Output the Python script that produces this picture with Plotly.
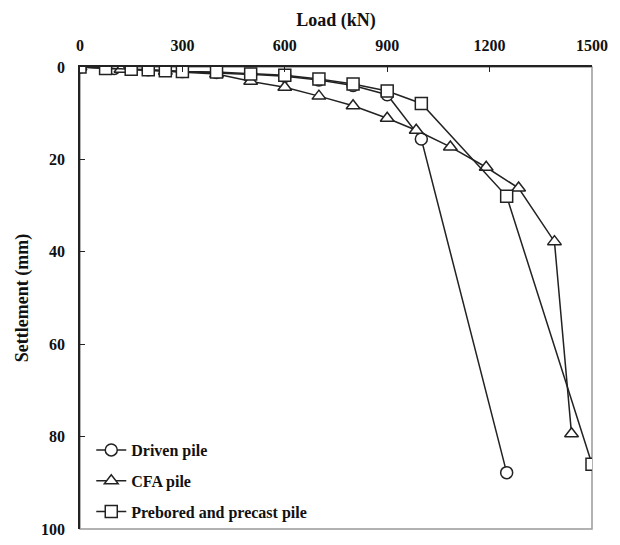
import plotly.graph_objects as go

driven_load = [0, 100, 200, 300, 400, 500, 600, 700, 800, 900, 1000, 1250]
driven_settle = [0, 0.3, 0.6, 1.0, 1.2, 1.6, 2.0, 2.8, 4.0, 6.0, 15.6, 87.8]

cfa_load = [0, 120, 250, 400, 500, 600, 700, 800, 900, 985, 1085, 1190, 1285, 1390, 1440]
cfa_settle = [0, 0.5, 0.9, 1.5, 3.1, 4.4, 6.3, 8.4, 11.1, 13.7, 17.3, 21.7, 26.2, 37.8, 79.4]

pre_load = [0, 75, 150, 200, 250, 300, 400, 500, 600, 700, 800, 900, 1000, 1250, 1500]
pre_settle = [0, 0.3, 0.5, 0.6, 0.8, 1.0, 1.1, 1.5, 1.8, 2.6, 3.7, 5.2, 7.9, 28.0, 86.0]

x_ticks = [0, 300, 600, 900, 1200, 1500]
y_ticks = [0, 20, 40, 60, 80, 100]

FONT = "Liberation Serif"

def trace(x, y, name, symbol, size, group):
    return go.Scatter(
        x=x, y=y, name=name, mode="lines+markers", legendgroup=group,
        line=dict(color="#222222", width=1.5),
        marker=dict(symbol=symbol, size=size, color="white",
                    line=dict(color="#222222", width=1.5)),
    )

fig = go.Figure()
fig.add_trace(trace(driven_load, driven_settle, "Driven pile", "circle", 12, "a"))
fig.add_trace(trace(cfa_load, cfa_settle, "CFA pile", "triangle-up", 12, "b"))
fig.add_trace(trace(pre_load, pre_settle, "Prebored and precast pile", "square", 12, "c"))

fig.add_shape(type="rect", xref="paper", yref="paper", x0=0, y0=0, x1=1, y1=1,
              line=dict(color="#999999", width=1.5), layer="below")

fig.update_layout(
    width=620, height=545,
    margin=dict(l=80, r=28, t=67, b=7),
    paper_bgcolor="white", plot_bgcolor="white",
    font=dict(family=FONT, size=14, color="#111111"),
    showlegend=True,
    legend=dict(x=0.022, y=0.0, xanchor="left", yanchor="bottom",
                bgcolor="rgba(255,255,255,0)",
                font=dict(family=FONT, size=16, color="#111111", weight="bold"),
                tracegroupgap=7, itemwidth=30, traceorder="grouped"),
    xaxis=dict(
        side="top", range=[0, 1500], tickvals=x_ticks,
        ticktext=[str(v) for v in x_ticks],
        showgrid=False, zeroline=False,
        showline=True, linecolor="#222222", linewidth=1.5,
        ticks="inside", ticklen=5, tickcolor="#222222",
        ticklabelstandoff=8,
        tickfont=dict(family=FONT, size=16, weight="bold"),
        title=dict(text="Load (kN)", standoff=6,
                   font=dict(family=FONT, size=18, weight="bold")),
    ),
    yaxis=dict(
        range=[100, 0], tickvals=y_ticks,
        ticktext=[str(v) for v in y_ticks],
        showgrid=False, zeroline=False,
        showline=True, linecolor="#222222", linewidth=1.5,
        ticks="inside", ticklen=5, tickcolor="#222222",
        ticklabelstandoff=10, ticklabeloverflow="allow",
        tickfont=dict(family=FONT, size=16, weight="bold"),
        title=dict(text="Settlement (mm)", standoff=8,
                   font=dict(family=FONT, size=18, weight="bold")),
    ),
)

fig.write_html("out.html")
